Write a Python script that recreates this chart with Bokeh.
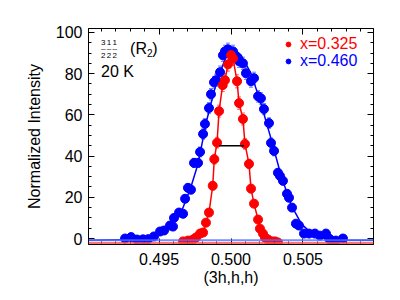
from bokeh.plotting import figure
from bokeh.models import (LinearAxis, Range1d, Whisker, TeeHead, ColumnDataSource, Span,
                          Label, Legend, LegendItem, SingleIntervalTicker, NumeralTickFormatter,
                          CustomLabelingPolicy)
from bokeh.embed import file_html
from bokeh.resources import INLINE

RED = "#FF0000"
BLUE = "#0000FF"
FONT = "Liberation Sans"

# ---- data ----
blue_x = [0.49264, 0.49306, 0.49347, 0.49389, 0.49424, 0.49465, 0.49507, 0.49535, 0.49576, 0.49597,
          0.49604, 0.49639, 0.49667, 0.49681, 0.49701, 0.49722, 0.49743, 0.49771, 0.49785, 0.49806,
          0.49819, 0.49847, 0.49861, 0.49882, 0.49896, 0.49924, 0.49944, 0.49958, 0.49979, 0.50014,
          0.50035, 0.50056, 0.50083, 0.50104, 0.50139, 0.50160, 0.50188, 0.50208, 0.50229, 0.50264,
          0.50278, 0.50299, 0.50326, 0.50340, 0.50361, 0.50389, 0.50403, 0.50424, 0.50451, 0.50472,
          0.50507, 0.50542, 0.50583, 0.50618, 0.50660, 0.50681, 0.50694, 0.50729, 0.50778]
blue_y = [0.0, 0.7, -0.5, -0.4, -0.3, 1.0, 3.4, 3.9, 6.3, 5.8,
          10.0, 12.6, 12.0, 19.3, 24.6, 23.7, 36.7, 36.7, 42.0, 50.7,
          55.6, 63.3, 70.0, 75.8, 76.8, 80.7, 88.9, 90.8, 91.8, 90.8,
          88.4, 86.0, 85.0, 80.2, 76.3, 77.8, 69.0, 68.0, 62.8, 56.0,
          46.4, 42.5, 31.9, 30.4, 28.0, 21.7, 19.8, 15.0, 7.2, 6.3,
          2.4, 2.4, 2.4, 1.4, 2.4, 0.0, -0.8, -1.0, 0.0]
blue_err = [1.0, 1.0, 1.0, 1.0, 1.0, 1.0, 1.2, 1.2, 1.4, 1.4,
            1.5, 1.6, 1.6, 1.8, 2.0, 2.0, 2.2, 2.2, 2.4, 2.5,
            2.6, 2.7, 2.8, 2.9, 2.9, 3.0, 3.0, 3.0, 3.0, 3.0,
            3.0, 3.0, 3.0, 3.0, 2.9, 2.9, 2.8, 2.8, 2.7, 2.6,
            2.4, 2.4, 2.1, 2.1, 2.0, 1.9, 1.8, 1.7, 1.4, 1.4,
            1.1, 1.1, 1.1, 1.0, 1.1, 1.0, 1.0, 1.0, 1.0]

red_x = [0.49667, 0.49701, 0.49736, 0.49757, 0.49785, 0.49806, 0.49826, 0.49847, 0.49873, 0.49884,
         0.49903, 0.49917, 0.49942, 0.49958, 0.49979, 0.50000, 0.50014, 0.50042, 0.50056, 0.50083,
         0.50097, 0.50125, 0.50139, 0.50160, 0.50188, 0.50201, 0.50222, 0.50236, 0.50257, 0.50285,
         0.50306, 0.50326]
red_y = [-1.4, -1.0, -0.5, 0.5, 2.4, 2.9, 7.7, 12.6, 25.6, 38.5,
         46.5, 61.8, 74.4, 76.8, 84.5, 89.0, 87.4, 76.3, 65.7, 58.0,
         45.9, 36.2, 24.2, 16.9, 9.2, 4.8, 2.4, 0.5, -0.5, -1.4,
         -1.4, -1.9]
red_err = [0.8, 0.8, 0.8, 0.9, 1.0, 1.0, 1.3, 1.5, 2.0, 2.4,
           2.6, 2.9, 3.1, 3.2, 3.3, 3.4, 3.3, 3.2, 3.0, 2.9,
           2.6, 2.3, 2.0, 1.7, 1.4, 1.1, 1.0, 0.9, 0.8, 0.8,
           0.8, 0.8]

blue_fit_x = [0.4901, 0.4940, 0.4948, 0.4956, 0.4965, 0.4972, 0.4977, 0.4983, 0.4990, 0.4997,
              0.5002, 0.5007, 0.5014, 0.5021, 0.5028, 0.5035, 0.5042, 0.5049, 0.5056, 0.5063,
              0.5070, 0.5099]
blue_fit_y = [-0.8, -0.5, 2.0, 5.3, 12.0, 24.6, 36.0, 57.0, 76.0, 89.0,
              92.0, 89.0, 80.0, 65.0, 48.0, 30.0, 16.0, 7.0, 2.5, 0.5,
              -0.8, -0.8]

blue_base = -0.8
red_base = -2.2
fwhm_x = [0.49917, 0.50090]
fwhm_y = [45.0, 45.0]

x_ticks_interval = 0.005
y_ticks_interval = 20

p = figure(width=400, height=300, x_range=Range1d(0.4901, 0.5099), y_range=Range1d(-2.9, 101.9),
           output_backend="svg", toolbar_location=None, x_axis_location=None, y_axis_location=None,
           min_border_left=88, min_border_right=27, min_border_top=28, min_border_bottom=56)
p.grid.visible = False
p.outline_line_color = "black"
p.background_fill_color = "white"

no_labels = CustomLabelingPolicy(code="""
    const all = [...indices]
    for (const i of all) indices.unset(i)
    return indices
""")


def style_axis(ax, show_labels):
    ax.axis_line_color = "black"
    ax.major_tick_in = 6
    ax.major_tick_out = 0
    ax.minor_tick_in = 3
    ax.minor_tick_out = 0
    ax.major_tick_line_color = "black"
    ax.minor_tick_line_color = "black"
    ax.major_label_text_font = FONT
    ax.major_label_text_color = "black"
    ax.axis_label_text_font = FONT
    ax.axis_label_text_font_style = "normal"
    ax.axis_label_text_font_size = "16px"
    ax.axis_label_text_color = "black"
    if show_labels:
        ax.major_label_text_font_size = "16px"
    else:
        ax.major_label_text_font_size = "4px"
        ax.major_label_standoff = 0
        ax.major_label_policy = no_labels


xb = LinearAxis(ticker=SingleIntervalTicker(interval=x_ticks_interval, num_minor_ticks=5),
                formatter=NumeralTickFormatter(format="0.000"), axis_label="(3h,h,h)")
style_axis(xb, True)
xb.major_label_standoff = 8
xb.axis_label_standoff = 1
p.add_layout(xb, "below")
xt = LinearAxis(ticker=SingleIntervalTicker(interval=x_ticks_interval, num_minor_ticks=5))
style_axis(xt, False)
p.add_layout(xt, "above")
yl = LinearAxis(ticker=SingleIntervalTicker(interval=y_ticks_interval, num_minor_ticks=4),
                axis_label="Normalized Intensity")
style_axis(yl, True)
yl.major_label_standoff = 6
yl.axis_label_standoff = 10
p.add_layout(yl, "left")
yr = LinearAxis(ticker=SingleIntervalTicker(interval=y_ticks_interval, num_minor_ticks=4))
style_axis(yr, False)
p.add_layout(yr, "right")

# baselines
p.add_layout(Span(location=blue_base, dimension="width", line_color="#5570FF", line_width=2, line_alpha=0.8))
p.add_layout(Span(location=red_base, dimension="width", line_color="#FF5050", line_width=2, line_alpha=0.8))

# blue series
p.line(blue_fit_x, blue_fit_y, line_color=BLUE, line_width=1.5)
bsrc = ColumnDataSource(dict(x=blue_x, y=blue_y,
                             lo=[v - e for v, e in zip(blue_y, blue_err)],
                             hi=[v + e for v, e in zip(blue_y, blue_err)]))
p.add_layout(Whisker(source=bsrc, base="x", lower="lo", upper="hi", line_color="#6680FF", line_width=1,
                     upper_head=TeeHead(size=4, line_color="#6680FF"),
                     lower_head=TeeHead(size=4, line_color="#6680FF")))
blue_r = p.scatter("x", "y", source=bsrc, size=9, fill_color=BLUE, line_color=BLUE)

# red series
rsrc = ColumnDataSource(dict(x=red_x, y=red_y,
                             lo=[v - e for v, e in zip(red_y, red_err)],
                             hi=[v + e for v, e in zip(red_y, red_err)]))
p.line("x", "y", source=rsrc, line_color=RED, line_width=1.5)
p.add_layout(Whisker(source=rsrc, base="x", lower="lo", upper="hi", line_color="#FF6666", line_width=1,
                     upper_head=TeeHead(size=4, line_color="#FF6666"),
                     lower_head=TeeHead(size=4, line_color="#FF6666")))
red_r = p.scatter("x", "y", source=rsrc, size=9, fill_color=RED, line_color=RED)

# FWHM marker
p.line(fwhm_x, fwhm_y, line_color="black", line_width=1.5)

# legends (one per colour)
for lbl, rend, col, loc in [("x=0.325", red_r, RED, (194, 191)), ("x=0.460", blue_r, BLUE, (194, 174))]:
    lg = Legend(items=[LegendItem(label=lbl, renderers=[rend])], location=loc,
                label_text_color=col, label_text_font=FONT, label_text_font_size="16px",
                background_fill_alpha=0, border_line_alpha=0, padding=0, margin=0,
                glyph_width=12, glyph_height=18, label_standoff=6, label_height=18)
    p.add_layout(lg, "center")

# annotation text
def lab(x, y, t, size, **kw):
    p.add_layout(Label(x=x, y=y, text=t, text_font=FONT, text_font_size=size, text_color="black",
                       text_baseline="middle", **kw))

lab(0.49097, 80.9, "20 K", "16px")
lab(0.49299, 92.3, "(R", "16px")
lab(0.49417, 89.8, "2", "10px")
lab(0.49453, 92.3, ")", "16px")
for i, (num, den) in enumerate([("3", "2"), ("1", "2"), ("1", "2")]):
    cx = 0.49112 + i * 0.00040
    lab(cx, 95.2, num, "8px", text_align="center")
    lab(cx, 92.0, "\u2013", "8px", text_align="center")
    lab(cx, 89.0, den, "8px", text_align="center")

open("out.html", "w").write(file_html(p, INLINE))
